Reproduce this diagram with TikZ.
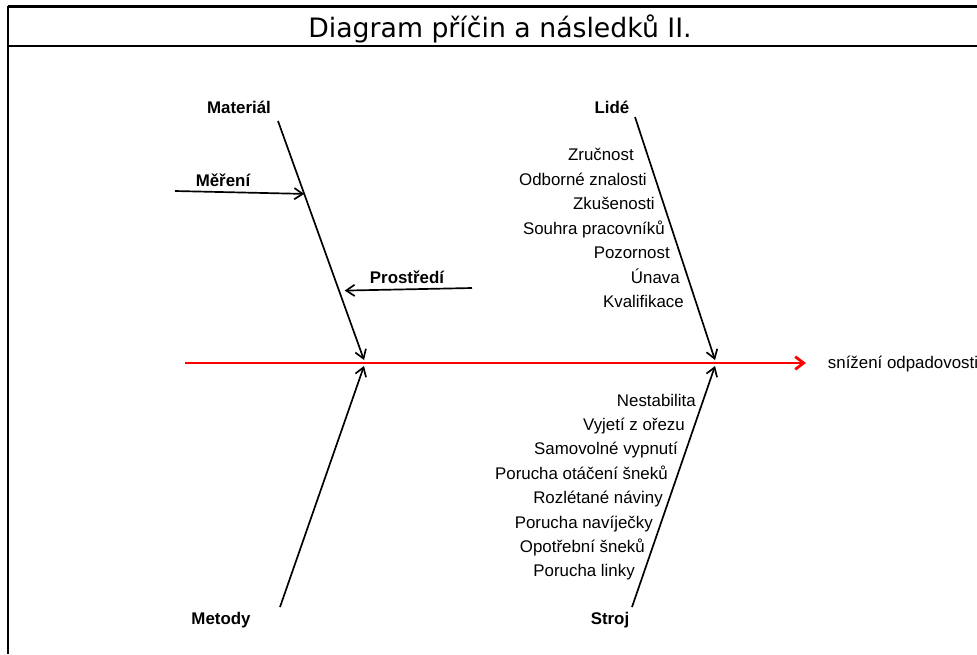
\documentclass[tikz,border=0pt]{standalone}
\usepackage{fontspec}
\setmainfont{Liberation Sans}
\newfontfamily\nadpisfont{DejaVu Sans}
\usetikzlibrary{calc}
\usetikzlibrary{arrows.meta}
\tikzset{
	>={Straight Barb[length=6pt,width=8pt]},
	kost/.style={draw, line width=1.2pt, ->},
	pater/.style={draw=red, line width=2pt, ->, >={Straight Barb[length=6pt,width=9pt]}},
	kategorie/.style={font=\fontsize{12pt}{14pt}\selectfont\bfseries, anchor=base},
	pricina/.style={anchor=base east, inner sep=0pt},
	ramecek/.style={draw, line width=1.7pt},
}

\begin{document}
\begin{tikzpicture}
	[x=0.025cm, y=-0.025cm, font=\fontsize{12pt}{14pt}\selectfont]
	\useasboundingbox (0,0) rectangle (977,654);
	% ramecek a nadpis
	\draw[ramecek] (8,6.5) -- (977,6.5);
	\draw[ramecek] (8,46) -- (977,46);
	\draw[line width=1.1pt] (8,6) -- (8,654);
	\node[anchor=base, font=\nadpisfont\fontsize{19pt}{23pt}\selectfont] (nadpis) at (500,37) {Diagram příčin a následků II.};

	% pater
	\coordinate (ocas) at (185,363);
	\coordinate (hlava) at (806,363);
	\coordinate (spojL) at (364,360);
	\coordinate (spojLd) at (364,366);
	\coordinate (spojR) at (715,360);
	\coordinate (spojRd) at (715,366);
	\draw[pater] (ocas) -- (hlava);
	\node[anchor=base west] (nasledek) at (823,368) {snížení odpadovosti};

	% kategorie
	\node[kategorie] (material) at (239,113) {Materiál};
	\node[kategorie] (mereni) at (223,186) {Měření};
	\node[kategorie] (prostredi) at (407,283) {Prostředí};
	\node[kategorie] (metody) at (221,624) {Metody};
	\node[kategorie] (lide) at (612,113) {Lidé};
	\node[kategorie] (stroj) at (610,624) {Stroj};

	\coordinate (matA) at (278,121);
	\coordinate (metA) at (280,607);
	\coordinate (lidA) at (635,117);
	\coordinate (strA) at (632,607);
	\coordinate (merA) at (175,191);
	\coordinate (proA) at (472,288);

	\draw[kost] (matA) -- (spojL);
	\draw[kost] (metA) -- (spojLd);
	\draw[kost] (lidA) -- (spojR);
	\draw[kost] (strA) -- (spojRd);
	\draw[kost] (merA) -- ($(matA)!0.305!(spojL)$);
	\draw[kost, shorten >=4pt] (proA) -- ($(matA)!0.71!(spojL)$);

	% lide
	\node[pricina] (zrucnost) at (634,160) {Zručnost};
	\node[pricina] (znalosti) at (647,185) {Odborné znalosti};
	\node[pricina] (zkusenosti) at (655,209) {Zkušenosti};
	\node[pricina] (souhra) at (665,234) {Souhra pracovníků};
	\node[pricina] (pozornost) at (670,258) {Pozornost};
	\node[pricina] (unava) at (680,283) {Únava};
	\node[pricina] (kvalifikace) at (684,307) {Kvalifikace};

	% stroj
	\node[pricina] (nestabilita) at (696,406) {Nestabilita};
	\node[pricina] (vyjeti) at (685,430) {Vyjetí z ořezu};
	\node[pricina] (vypnuti) at (678,454) {Samovolné vypnutí};
	\node[pricina] (otaceni) at (668,479) {Porucha otáčení šneků};
	\node[pricina] (naviny) at (663,503) {Rozlétané náviny};
	\node[pricina] (navijecka) at (653,528) {Porucha navíječky};
	\node[pricina] (opotrebeni) at (645,552) {Opotřební šneků};
	\node[pricina] (linky) at (635,576) {Porucha linky};
\end{tikzpicture}
\end{document}
